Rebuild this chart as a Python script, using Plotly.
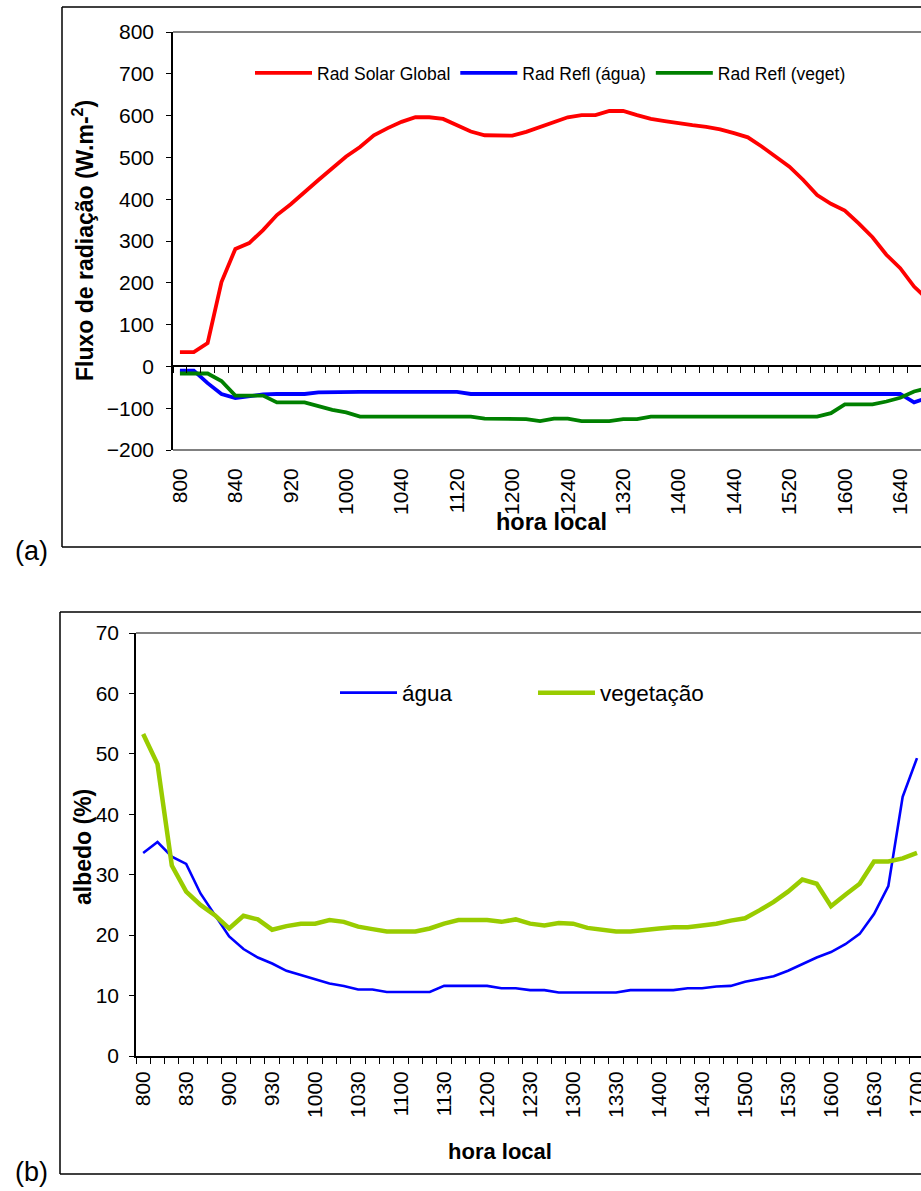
import plotly.graph_objects as go

# ---------------- data ----------------
hora = ["800", "810", "820", "830", "840", "850", "900", "910", "920", "930",
        "940", "950", "1000", "1010", "1020", "1030", "1040", "1050", "1100", "1110",
        "1120", "1130", "1140", "1150", "1200", "1210", "1220", "1230", "1240", "1250",
        "1300", "1310", "1320", "1330", "1340", "1350", "1400", "1410", "1420", "1430",
        "1440", "1450", "1500", "1510", "1520", "1530", "1540", "1550", "1600", "1610",
        "1620", "1630", "1640", "1650", "1700"]

rad_solar_global = [34, 34, 56, 202, 281, 295, 326, 362, 388, 418,
                    446, 474, 502, 525, 553, 570, 585, 596, 596, 592,
                    578, 562, 553, 552, 552, 561, 573, 585, 596, 601,
                    601, 611, 611, 601, 592, 587, 581, 577, 573, 567,
                    558, 548, 526, 503, 478, 446, 410, 389, 373, 342,
                    309, 267, 235, 191, 160]

rad_refl_agua = [-10, -10, -40, -66, -76, -72, -67, -66, -66, -66,
                 -62, -61, -61, -61, -61, -61, -61, -61, -61, -61,
                 -61, -66, -66, -66, -66, -66, -66, -66, -66, -66,
                 -66, -66, -66, -66, -66, -66, -66, -66, -66, -66,
                 -66, -66, -66, -66, -66, -66, -66, -66, -66, -66,
                 -66, -66, -66, -86, -75]

rad_refl_veget = [-17, -17, -17, -35, -70, -70, -70, -86, -86, -86,
                  -95, -104, -110, -120, -120, -120, -120, -120, -120, -120,
                  -120, -120, -125, -125, -126, -126, -131, -125, -125, -131,
                  -131, -131, -126, -126, -120, -120, -120, -120, -120, -120,
                  -120, -120, -120, -120, -120, -120, -120, -112, -91, -91,
                  -91, -84, -75, -60, -52]

albedo_agua = [33.6, 35.4, 33.0, 31.8, 26.9, 23.4, 19.8, 17.7, 16.3, 15.3,
               14.1, 13.4, 12.7, 12.0, 11.6, 11.0, 11.0, 10.6, 10.6, 10.6,
               10.6, 11.6, 11.6, 11.6, 11.6, 11.2, 11.2, 10.9, 10.9, 10.5,
               10.5, 10.5, 10.5, 10.5, 10.9, 10.9, 10.9, 10.9, 11.2, 11.2,
               11.5, 11.6, 12.3, 12.7, 13.2, 14.1, 15.2, 16.3, 17.2, 18.5,
               20.2, 23.5, 28.1, 42.9, 49.3]

albedo_vegetacao = [53.3, 48.3, 31.5, 27.2, 25.0, 23.3, 21.1, 23.2, 22.6, 20.9,
                    21.5, 21.9, 21.9, 22.5, 22.2, 21.4, 21.0, 20.6, 20.6, 20.6,
                    21.1, 21.9, 22.5, 22.5, 22.5, 22.2, 22.6, 21.9, 21.6, 22.0,
                    21.9, 21.2, 20.9, 20.6, 20.6, 20.9, 21.1, 21.3, 21.3, 21.6,
                    21.9, 22.4, 22.8, 24.1, 25.5, 27.2, 29.2, 28.5, 24.8, 26.7,
                    28.5, 32.2, 32.2, 32.7, 33.6]

labels_a = hora[::4]
labels_b = hora[::3]

# ---------------- layout helpers ----------------
W, H = 921, 1191
FONT = "Liberation Sans, Arial, sans-serif"


def fx(p):
    return p / W


def fy(p):
    return 1 - p / H


# panel (a) plot area (pixels)
A_L, A_T, A_B = 173, 32, 450
# panel (b) plot area (pixels)
B_L, B_T, B_B = 136, 633, 1056

ya_dom = [fy(A_B), fy(A_T)]
yb_dom = [fy(B_B), fy(B_T)]
ya_range = [-200, 800]
zero_pos = ya_dom[0] + (0 - ya_range[0]) / (ya_range[1] - ya_range[0]) * (ya_dom[1] - ya_dom[0])

ra = [-0.5, 53.5]
rb = [-0.5, 54.28]

fig = go.Figure()

# ---- panel (a) ----
fig.add_trace(go.Scatter(x=hora, y=rad_solar_global, name="Rad Solar Global", mode="lines",
                         line=dict(color="#FF0000", width=3.8), xaxis="x", yaxis="y", legend="legend"))
fig.add_trace(go.Scatter(x=hora, y=rad_refl_agua, name="Rad Refl (água)", mode="lines",
                         line=dict(color="#0000FF", width=3.8), xaxis="x", yaxis="y", legend="legend"))
fig.add_trace(go.Scatter(x=hora, y=rad_refl_veget, name="Rad Refl (veget)", mode="lines",
                         line=dict(color="#008000", width=3.8), xaxis="x", yaxis="y", legend="legend"))
# empty trace to materialise the tick axis at y=0
fig.add_trace(go.Scatter(x=[], y=[], xaxis="x3", yaxis="y", showlegend=False, hoverinfo="skip"))

# ---- panel (b) ----
fig.add_trace(go.Scatter(x=hora, y=albedo_agua, name="água", mode="lines",
                         line=dict(color="#0000FF", width=2.6), xaxis="x2", yaxis="y2", legend="legend2"))
fig.add_trace(go.Scatter(x=hora, y=albedo_vegetacao, name="vegetação", mode="lines",
                         line=dict(color="#99CC00", width=4.5), xaxis="x2", yaxis="y2", legend="legend2"))
fig.add_trace(go.Scatter(x=[], y=[], xaxis="x4", yaxis="y2", showlegend=False, hoverinfo="skip"))

tickfont_x = dict(family=FONT, size=21, color="black")
tickfont_y = dict(family=FONT, size=21, color="black")

fig.update_layout(
    template="none",
    width=W, height=H,
    margin=dict(l=0, r=0, t=0, b=0, pad=0),
    paper_bgcolor="white", plot_bgcolor="white",
    font=dict(family=FONT, color="black"),
    # panel (a) x axis (labels only)
    xaxis=dict(domain=[fx(A_L), 1], anchor="y", type="category", range=ra, automargin=False,
               tickmode="array", tickvals=labels_a, ticktext=labels_a, tickangle=-90,
               ticks="", showline=False, showgrid=False, zeroline=False,
               tickfont=tickfont_x, ticklabelstandoff=13),
    # panel (a) axis at y = 0 with tick marks at category boundaries
    xaxis3=dict(domain=[fx(A_L), 1], overlaying="x", anchor="free", position=zero_pos,
                type="linear", range=ra, tickmode="array", automargin=False,
                tickvals=[i - 0.5 for i in range(len(hora) + 1)],
                ticks="outside", ticklen=6, tickwidth=1.3, tickcolor="black",
                showticklabels=False, showline=True, linecolor="black", linewidth=1.5,
                showgrid=False, zeroline=False),
    yaxis=dict(domain=ya_dom, anchor="x", range=ya_range, dtick=100, automargin=False,
               ticks="outside", ticklen=5, tickwidth=1.3, tickcolor="black",
               showline=True, linecolor="black", linewidth=1.5,
               showgrid=False, zeroline=False, tickfont=tickfont_y, ticklabelstandoff=8),
    # panel (b) x axis (labels only)
    xaxis2=dict(domain=[fx(B_L), 1], anchor="y2", type="category", range=rb, automargin=False,
                tickmode="array", tickvals=labels_b, ticktext=labels_b, tickangle=-90,
                ticks="", showline=False, showgrid=False, zeroline=False,
                tickfont=tickfont_x, ticklabelstandoff=10),
    xaxis4=dict(domain=[fx(B_L), 1], overlaying="x2", anchor="y2", automargin=False,
                type="linear", range=rb, tickmode="array",
                tickvals=[i - 0.5 for i in range(len(hora) + 1)],
                ticks="outside", ticklen=6, tickwidth=1.3, tickcolor="black",
                showticklabels=False, showline=True, linecolor="black", linewidth=1.5,
                showgrid=False, zeroline=False),
    yaxis2=dict(domain=yb_dom, anchor="x2", range=[0, 70], dtick=10, automargin=False,
                ticks="outside", ticklen=5, tickwidth=1.3, tickcolor="black",
                showline=True, linecolor="black", linewidth=1.5,
                showgrid=False, zeroline=False, tickfont=tickfont_y, ticklabelstandoff=6),
    legend=dict(orientation="h", x=fx(250), y=fy(73), xanchor="left", yanchor="middle",
                font=dict(family=FONT, size=17.5, color="black"), bgcolor="rgba(0,0,0,0)",
                itemwidth=57, borderwidth=0),
    legend2=dict(orientation="h", x=fx(335), y=fy(693), xanchor="left", yanchor="middle",
                 font=dict(family=FONT, size=22.5, color="black"), bgcolor="rgba(0,0,0,0)",
                 itemwidth=57, entrywidth=126, borderwidth=0),
    showlegend=True,
)

# plot-area borders (gray) and outer chart boxes (black)
shapes = [
    dict(type="line", xref="x domain", yref="y domain", x0=0, x1=1, y0=1, y1=1,
         line=dict(color="#808080", width=2)),
    dict(type="line", xref="x domain", yref="y domain", x0=0, x1=1, y0=0, y1=0,
         line=dict(color="#808080", width=2)),
    dict(type="line", xref="x2 domain", yref="y2 domain", x0=0, x1=1, y0=1, y1=1,
         line=dict(color="#808080", width=2)),
]
for (l, t, b) in [(62, 7, 547), (60, 612, 1174)]:
    shapes.append(dict(type="line", xref="paper", yref="paper", x0=fx(l), x1=1.01, y0=fy(t), y1=fy(t),
                       line=dict(color="black", width=1.5)))
    shapes.append(dict(type="line", xref="paper", yref="paper", x0=fx(l), x1=1.01, y0=fy(b), y1=fy(b),
                       line=dict(color="black", width=1.5)))
    shapes.append(dict(type="line", xref="paper", yref="paper", x0=fx(l), x1=fx(l), y0=fy(t), y1=fy(b),
                       line=dict(color="black", width=1.5)))
fig.update_layout(shapes=shapes)

annotations = [
    dict(text="<b>Fluxo de radiação (W.m-<sup>2</sup>)</b>", textangle=-90, x=fx(83), y=fy(241),
         xref="paper", yref="paper", showarrow=False, xanchor="center", yanchor="middle",
         font=dict(family=FONT, size=23, color="black")),
    dict(text="<b>hora local</b>", x=fx(551), y=fy(522), xref="paper", yref="paper", showarrow=False,
         xanchor="center", yanchor="middle", font=dict(family=FONT, size=23.5, color="black")),
    dict(text="<b>albedo (%)</b>", textangle=-90, x=fx(83), y=fy(847),
         xref="paper", yref="paper", showarrow=False, xanchor="center", yanchor="middle",
         font=dict(family=FONT, size=23, color="black")),
    dict(text="<b>hora local</b>", x=fx(500), y=fy(1151), xref="paper", yref="paper", showarrow=False,
         xanchor="center", yanchor="middle", font=dict(family=FONT, size=22, color="black")),
    dict(text="(a)", x=fx(31), y=fy(551), xref="paper", yref="paper", showarrow=False,
         xanchor="center", yanchor="middle", font=dict(family=FONT, size=27, color="black")),
    dict(text="(b)", x=fx(31), y=fy(1172), xref="paper", yref="paper", showarrow=False,
         xanchor="center", yanchor="middle", font=dict(family=FONT, size=27, color="black")),
]
fig.update_layout(annotations=annotations)

# remove the default 8 px page margin so the figure fills the window exactly
fig.write_html("out.html",
               config={"displayModeBar": False},
               post_script="document.body.style.margin='0';document.body.style.overflow='hidden';")
